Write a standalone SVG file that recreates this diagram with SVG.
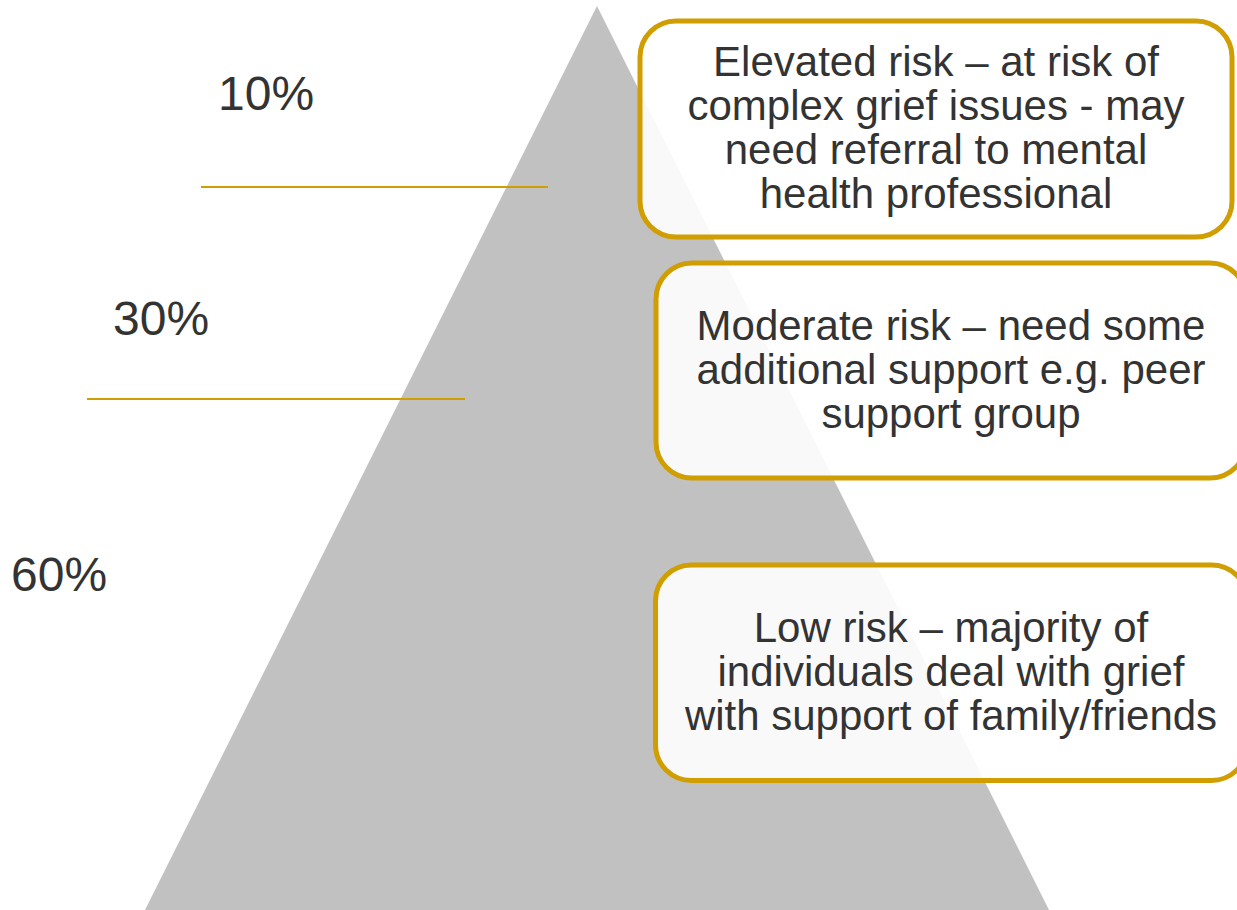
<svg xmlns="http://www.w3.org/2000/svg" width="1237" height="910" viewBox="0 0 1237 910">
<style>
.pct{font-family:"Liberation Sans",Arial,sans-serif;font-size:48px;fill:#333333}
.lbl{font-family:"Liberation Sans",Arial,sans-serif;font-size:42px;fill:#333333;text-anchor:middle}
.box{fill:#ffffff;fill-opacity:0.9;stroke:#d09e00;stroke-width:5}
.sep{stroke:#d09e00;stroke-width:2;fill:none}
</style>
<rect width="1237" height="910" fill="#ffffff"/>
<g id="pyramid">
<polygon points="597,6 1049,910 145,910" fill="#c1c1c1"/>
</g>
<g id="connectors">
<line class="sep" x1="201" y1="187" x2="548" y2="187"/>
<line class="sep" x1="87" y1="399" x2="465" y2="399"/>
</g>
<g id="pct10"><text class="pct" x="218" y="110">10%</text></g>
<g id="pct30"><text class="pct" x="113" y="335">30%</text></g>
<g id="pct60"><text class="pct" x="11" y="591">60%</text></g>
<g id="elevated">
<rect class="box" x="640" y="21" width="592" height="216" rx="36" ry="36"/>
<text class="lbl" x="936" y="76">Elevated risk – at risk of</text>
<text class="lbl" x="936" y="120">complex grief issues - may</text>
<text class="lbl" x="936" y="164">need referral to mental</text>
<text class="lbl" x="936" y="208">health professional</text>
</g>
<g id="moderate">
<rect class="box" x="656" y="263" width="590" height="215" rx="36" ry="36"/>
<text class="lbl" x="951" y="340">Moderate risk – need some</text>
<text class="lbl" x="951" y="383.5">additional support e.g. peer</text>
<text class="lbl" x="951" y="427.5">support group</text>
</g>
<g id="low">
<rect class="box" x="655.5" y="565" width="592" height="215.5" rx="36" ry="36"/>
<text class="lbl" x="951" y="642">Low risk – majority of</text>
<text class="lbl" x="951" y="686">individuals deal with grief</text>
<text class="lbl" x="951" y="730">with support of family/friends</text>
</g>
</svg>
